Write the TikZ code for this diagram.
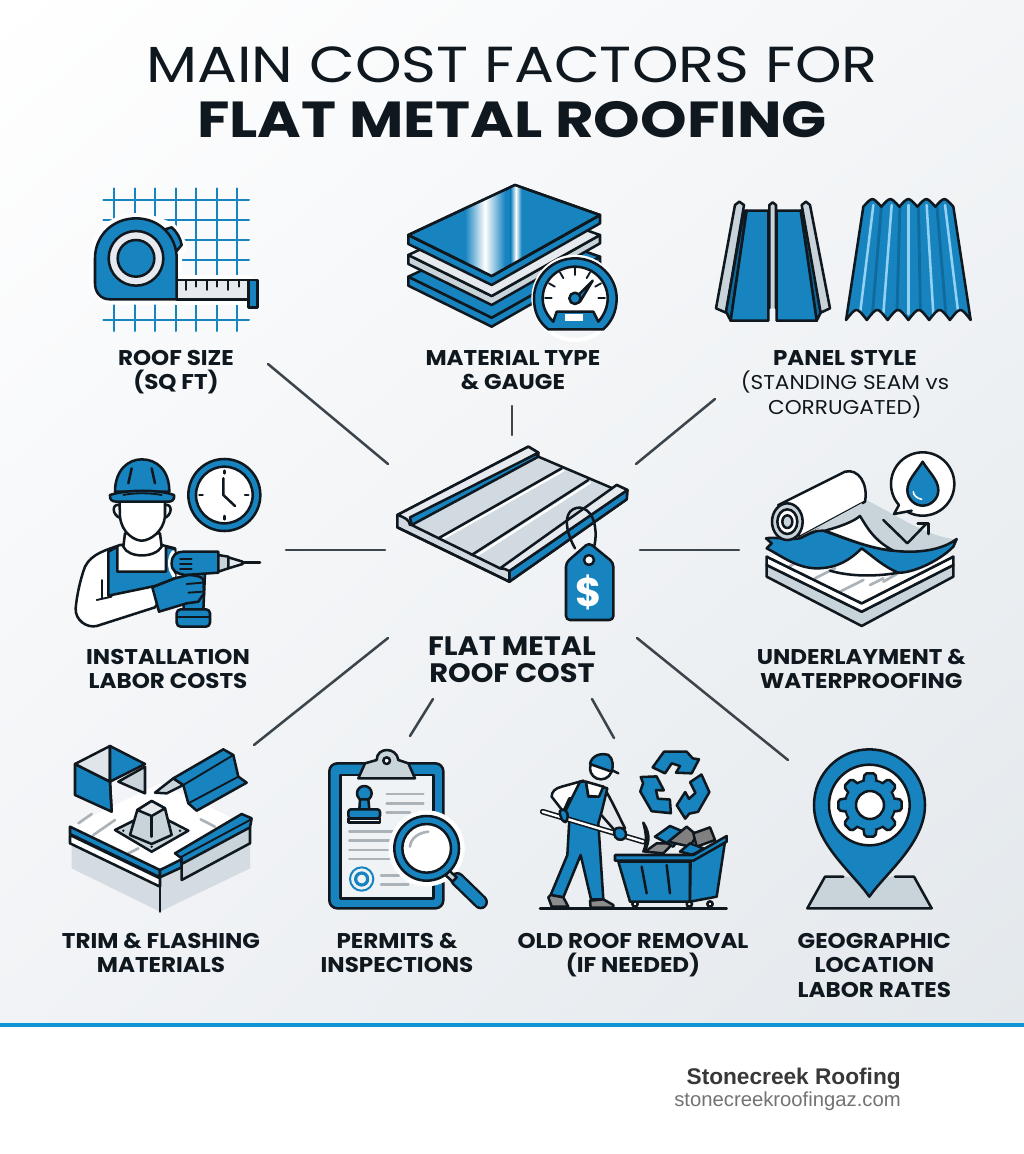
\documentclass[tikz,border=0pt]{standalone}
\usepackage{fontspec}
\usepackage{xcolor}
\setmainfont{Poppins}
\newfontfamily\titlefont[FakeStretch=1.17]{Poppins}
\newfontfamily\labelfont[FakeStretch=1.08]{Poppins}
\newfontfamily\footfont{Liberation Sans}
\definecolor{ink}{HTML}{10181F}
\definecolor{roofblue}{HTML}{1784C0}
\definecolor{deepblue}{HTML}{0F6A9E}
\definecolor{skyblue}{HTML}{93D2F2}
\definecolor{steel}{HTML}{C9D3DA}
\definecolor{paleface}{HTML}{E6EAEE}
\definecolor{spokegray}{HTML}{3C444C}
\definecolor{stripe}{HTML}{0F95D6}
\definecolor{backtr}{HTML}{F3F5F7}
\definecolor{backbl}{HTML}{F1F3F6}
\definecolor{backbr}{HTML}{E3E8EC}
\usetikzlibrary{positioning,shadings}
\tikzset{icon/.style={shift={#1},x=0.25pt,y=-0.25pt}}

\begin{document}
\begin{tikzpicture}[x=0.75pt, y=-0.75pt, line join=round, line cap=round]
    % Define styles
    \tikzstyle{outline} = [draw=ink, line width=1.9pt]
    \tikzstyle{blueface} = [outline, fill=roofblue]
    \tikzstyle{steelface} = [outline, fill=steel]
    \tikzstyle{whiteface} = [outline, fill=white]
    \tikzstyle{paneface} = [outline, fill=paleface]
    \tikzstyle{fineline} = [draw=ink, line width=1.4pt]
    \tikzstyle{gridline} = [draw=roofblue, line width=1.5pt]
    \tikzstyle{halo} = [draw=white, line width=8pt]
    \tikzstyle{textline} = [draw=steel!85!black, line width=2pt]
    \tikzstyle{spoke} = [draw=spokegray, line width=1.9pt]
    \tikzstyle{factor} = [font=\labelfont\bfseries\fontsize{16}{18.4}\selectfont, align=center, text=ink, inner sep=0pt, execute at end node=\strut]
    \tikzstyle{hubtext} = [font=\labelfont\bfseries\fontsize{20}{20.3}\selectfont, align=center, text=ink, inner sep=0pt]

    % Page and footer
    \useasboundingbox (0,0) rectangle (1024,1154);
    \fill [white] (0,0) rectangle (1024,1154);
    \shade [upper left=white, upper right=backtr, lower left=backbl, lower right=backbr] (0,0) rectangle (1024,1025);
    \fill [stripe] (0,1023) rectangle (1024,1027);

    % Title
    \node [font=\titlefont\fontsize{38}{42}\selectfont, text=ink, inner sep=0pt] (titleline) at (512,65) {MAIN COST FACTORS FOR};
    \node [font=\titlefont\bfseries\fontsize{38}{42}\selectfont, text=ink, inner sep=0pt, below of=titleline, node distance=41pt] (titlebold) {FLAT METAL ROOFING};

    % Factor labels
    \node [factor] (roofsize) at (176,373.7) {ROOF SIZE\\(SQ FT)};
    \node [factor, right of=roofsize, node distance=252.7pt] (gauge) {MATERIAL TYPE\\\& GAUGE};
    \node [factor, right of=gauge, node distance=249pt, yshift=-9pt] (panelstyle) {PANEL STYLE\\{\mdseries\fontsize{15}{18.4}\selectfont (STANDING SEAM vs}\\{\mdseries\fontsize{15}{18.4}\selectfont CORRUGATED)}};
    \node [factor] (labor) at (168,672.7) {INSTALLATION\\LABOR COSTS};
    \node [hubtext] (hub) at (512,660) {FLAT METAL\\ROOF COST};
    \node [factor, right of=labor, node distance=520pt] (underlay) {UNDERLAYMENT \&\\WATERPROOFING};
    \node [factor] (trim) at (161,956.7) {TRIM \& FLASHING\\MATERIALS};
    \node [factor, right of=trim, node distance=177pt] (permits) {PERMITS \&\\INSPECTIONS};
    \node [factor, right of=permits, node distance=177pt] (removal) {OLD ROOF REMOVAL\\(IF NEEDED)};
    \node [factor, right of=removal, node distance=181pt, yshift=-9pt] (location) {GEOGRAPHIC\\LOCATION\\LABOR RATES};

    % Footer text
    \node [font=\footfont\bfseries\fontsize{17}{20}\selectfont, text=black!78, anchor=east, inner sep=0pt] (brand) at (901,1079) {Stonecreek Roofing};
    \node [font=\footfont\fontsize{15.2}{18}\selectfont, text=black!55, anchor=east, inner sep=0pt] (website) at (901,1101) {stonecreekroofingaz.com};

    % Spoke ends
    \coordinate (s1a) at (268,364); \coordinate (s1b) at (388,464);
    \coordinate (s2a) at (512,406); \coordinate (s2b) at (512,435);
    \coordinate (s3a) at (715,399); \coordinate (s3b) at (636,464);
    \coordinate (s4a) at (286,550); \coordinate (s4b) at (385,550);
    \coordinate (s5a) at (739,550); \coordinate (s5b) at (640,550);
    \coordinate (s6a) at (254,745); \coordinate (s6b) at (388,638);
    \coordinate (s7a) at (410,736); \coordinate (s7b) at (433,699);
    \coordinate (s8a) at (614,738); \coordinate (s8b) at (592,699);
    \coordinate (s9a) at (788,760); \coordinate (s9b) at (637,638);
    \foreach \n in {1,...,9}
        \draw [spoke] (s\n a) -- (s\n b);

    % Roof size icon
    \begin{scope}[icon={(60,170)}]
        \foreach \x in {163,225,286,348,409,470,532} {
            \draw [gridline] (\x,55) -- (\x,315);
            \draw [gridline] (\x,403) -- (\x,483);
        }
        \foreach \y in {90,150,210,270,450}
            \draw [gridline] (130,\y) -- (567,\y);
        \draw [halo] (350,388) -- (150,388) .. controls (120,388) and (105,365) .. (105,340) -- (105,265) .. controls (105,195) and (160,145) .. (228,145) .. controls (270,145) and (310,165) .. (335,175) -- (365,225) -- (350,265) -- cycle;
        \draw [halo] (350,330) rectangle (565,388);
        \draw [blueface] (315,178) -- (335,172) .. controls (350,185) and (362,205) .. (365,225) -- (350,243) -- cycle;
        \draw [paneface] (350,330) rectangle (565,388);
        \foreach \x/\y in {378/360,407/350,440/360,472/350,505/360,537/350}
            \draw [fineline] (\x,330) -- (\x,\y);
        \draw [blueface] (350,388) -- (150,388) .. controls (120,388) and (105,365) .. (105,340) -- (105,265) .. controls (105,195) and (160,145) .. (228,145) .. controls (300,145) and (350,200) .. (350,265) -- cycle;
        \draw [paneface] (228,265) circle [radius=82];
        \draw [blueface] (228,265) circle [radius=55];
        \draw [blueface] (565,330) rectangle (592,412);
    \end{scope}

    % Material stack icon
    \begin{scope}[icon={(390,170)}]
        \foreach \dy/\topcol/\sidecol in {125/roofblue/roofblue,60/paleface/steel,0/roofblue/roofblue} {
            \begin{scope}[yshift=-\dy*0.25pt]
                \draw [outline, fill=\sidecol] (55,195) -- (305,318) -- (630,135) -- (630,160) -- (305,345) -- (55,222) -- cycle;
                \draw [outline, fill=\topcol] (375,45) -- (630,135) -- (305,318) -- (55,195) -- cycle;
            \end{scope}
        }
        \begin{scope}
            \clip (375,45) -- (630,135) -- (305,318) -- (55,195) -- cycle;
            \fill [left color=roofblue, right color=roofblue, middle color=white] (225,30) rectangle (345,330);
            \fill [left color=roofblue, right color=roofblue, middle color=white] (362,30) rectangle (394,330);
        \end{scope}
        \draw [outline] (375,45) -- (630,135) -- (305,318) -- (55,195) -- cycle;
        % Gauge
        \draw [draw=white, line width=3pt] (555,385) circle [radius=125];
        \draw [blueface] (475,478) .. controls (445,455) and (432,425) .. (432,385) .. controls (432,318) and (488,265) .. (555,265) .. controls (622,265) and (680,318) .. (680,385) .. controls (680,425) and (665,455) .. (640,478) -- cycle;
        \draw [whiteface] (490,455) .. controls (470,435) and (458,412) .. (458,385) .. controls (458,332) and (502,290) .. (555,290) .. controls (608,290) and (653,332) .. (653,385) .. controls (653,412) and (642,435) .. (625,455) -- (610,425) -- (500,425) -- cycle;
        \fill [white] (525,432) rectangle (580,452);
        \foreach \a in {0,30,60,90,120,150,180}
            \draw [fineline] ({555+70*cos(\a)},{385-70*sin(\a)}) -- ({555+90*cos(\a)},{385-90*sin(\a)});
        \draw [blueface] (608,332) -- (565,375) -- (570,395) -- cycle;
        \draw [blueface] (555,385) circle [radius=17];
    \end{scope}

    % Panel style icon
    \begin{scope}[icon={(700,190)}]
        \draw [steelface] (48,355) -- (105,45) -- (118,35) -- (132,45) -- (78,368) -- cycle;
        \draw [outline, fill=deepblue] (132,62) -- (78,365) -- (92,392) -- (140,62) -- cycle;
        \draw [blueface] (140,62) -- (205,62) -- (205,392) -- (92,392) -- cycle;
        \draw [steelface] (208,355) -- (208,45) -- (218,37) -- (228,45) -- (228,355);
        \draw [outline, fill=deepblue] (302,62) -- (312,62) -- (362,368) -- (350,392) -- cycle;
        \draw [blueface] (230,62) -- (302,62) -- (350,392) -- (230,392) -- cycle;
        \draw [steelface] (305,45) -- (318,35) -- (330,45) -- (390,355) -- (362,368) -- cycle;
        % Corrugated sheet
        \begin{scope}
            \clip (490,50) \foreach \i in {0,...,4} { .. controls ({490+54*\i+27},20) .. ({490+54*\i+54},50) } -- (812,390) \foreach \i in {0,...,5} { .. controls ({812-62.3*\i-31},350) .. ({812-62.3*\i-62.3},390) } -- cycle;
            \fill [roofblue] (430,20) rectangle (820,400);
            \foreach \xa/\xb in {545/515,600/590,655/662,710/740}
                \draw [draw=deepblue, line width=2.2pt] (\xa,40) -- (\xb,400);
            \foreach \xa/\xb in {520/480,575/550,625/625,680/700,735/775}
                \draw [draw=skyblue, line width=1.9pt] (\xa,45) -- (\xb,372);
        \end{scope}
        \draw [outline] (490,50) \foreach \i in {0,...,4} { .. controls ({490+54*\i+27},20) .. ({490+54*\i+54},50) } -- (812,390) \foreach \i in {0,...,5} { .. controls ({812-62.3*\i-31},350) .. ({812-62.3*\i-62.3},390) } -- cycle;
    \end{scope}

    % Installation labor icon
    \begin{scope}[icon={(60,450)}]
        \draw [whiteface] (180,285) .. controls (140,300) and (95,310) .. (75,350) .. controls (60,390) and (50,440) .. (47,475) .. controls (45,510) and (80,535) .. (110,528) -- (285,472) -- (345,380) -- (345,295) -- (305,285) -- cycle;
        \draw [blueface] (145,305) -- (172,290) -- (172,365) -- (318,365) -- (318,290) -- (345,297) -- (345,385) -- (285,408) -- (145,437) -- cycle;
        \draw [whiteface] (195,250) -- (190,290) .. controls (205,325) and (285,325) .. (305,290) -- (300,250) -- cycle;
        \draw [outline] (178,165) .. controls (155,160) and (155,195) .. (182,205);
        \draw [outline] (315,165) .. controls (338,160) and (338,195) .. (312,205);
        \draw [whiteface] (178,140) -- (180,200) .. controls (185,250) and (225,272) .. (245,272) .. controls (270,272) and (310,245) .. (315,200) -- (315,140) -- cycle;
        \draw [blueface] (165,125) .. controls (165,60) and (205,28) .. (245,28) .. controls (290,28) and (328,60) .. (328,125) -- cycle;
        \draw [blueface] (150,135) .. controls (200,118) and (295,118) .. (342,135) .. controls (345,150) and (335,155) .. (325,155) -- (170,155) .. controls (155,155) and (148,148) .. (150,135) -- cycle;
        \draw [outline] (205,100) -- (215,55);
        \draw [outline] (285,100) -- (275,55);
        \draw [fineline] (190,135) .. controls (220,128) and (270,128) .. (305,135);
        \draw [fineline] (125,390) -- (125,445);
        \draw [fineline] (110,450) -- (155,440);
        % Drill
        \draw [draw=white, line width=2.5pt] (340,305) .. controls (325,325) and (325,355) .. (342,378);
        \draw [blueface] (378,370) -- (435,370) -- (430,482) -- (370,482) -- cycle;
        \draw [blueface, rounded corners=3pt] (350,478) rectangle (450,530);
        \draw [fineline] (350,500) -- (450,500);
        \draw [blueface] (335,340) .. controls (335,315) and (350,305) .. (370,305) -- (475,305) -- (475,368) -- (375,375) .. controls (350,370) and (335,365) .. (335,340) -- cycle;
        \foreach \y in {328,342,356}
            \draw [fineline] (360,\y) -- (395,\y);
        \draw [steelface] (475,315) -- (505,320) -- (505,355) -- (475,365) -- cycle;
        \draw [paneface] (505,322) -- (548,335) -- (548,342) -- (505,355) -- cycle;
        \draw [outline] (548,338) -- (600,338);
        \draw [blueface] (277,412) -- (345,385) -- (385,375) .. controls (405,375) and (425,380) .. (430,388) -- (432,430) -- (415,455) -- (380,460) -- (297,485) -- cycle;
        \draw [fineline] (380,402) -- (428,398);
        \draw [fineline] (385,428) -- (428,425);
        % Clock
        \draw [blueface] (493,135) circle [radius=108];
        \draw [whiteface] (493,135) circle [radius=85];
        \draw [outline] (490,85) -- (490,135) -- (525,168);
        \draw [outline] (493,62) -- (493,70);
        \draw [outline] (493,198) -- (493,208);
        \draw [outline] (418,135) -- (428,135);
        \draw [outline] (555,135) -- (565,135);
    \end{scope}

    % Roof panel icon
    \begin{scope}[icon={(390,440)}]
        \draw [outline, fill=steel!85] (22,225) -- (415,20) -- (445,38) -- (445,50) -- (668,145) -- (680,135) -- (712,150) -- (710,178) -- (358,425) -- (22,262) -- cycle;
        \draw [outline, fill=paleface] (22,225) -- (415,20) -- (445,38) -- (60,255) .. controls (58,240) and (45,232) .. (22,225) -- cycle;
        \draw [blueface] (60,232) -- (438,42) -- (445,50) -- (65,255) -- cycle;
        \draw [draw=white, line width=1.6pt] (155,298) -- (520,92);
        \draw [draw=white, line width=1.6pt] (255,350) -- (600,128);
        \draw [outline] (145,295) -- (515,85);
        \draw [outline] (245,345) -- (595,120);
        \draw [outline] (65,255) -- (330,385);
        \draw [blueface] (358,393) -- (712,150) -- (710,178) -- (358,425) -- cycle;
        \draw [paneface] (330,385) -- (680,135) -- (712,150) -- (358,393) .. controls (350,388) and (340,385) .. (330,385) -- cycle;
        \draw [outline] (22,262) -- (358,425) -- (358,393);
        % Price tag
        \draw [outline] (555,325) .. controls (535,290) and (520,240) .. (540,215) .. controls (565,190) and (600,205) .. (612,245) .. controls (622,285) and (615,320) .. (605,340);
        \draw [blueface, rounded corners=3pt] (597,308) -- (670,368) -- (670,540) -- (528,540) -- (528,368) -- cycle;
        \draw [whiteface] (597,360) circle [radius=15];
        \node [font=\bfseries\fontsize{30}{30}\selectfont, text=white, inner sep=0pt] (pricesign) at (597,457) {\$};
    \end{scope}

    % Underlayment icon
    \begin{scope}[icon={(750,440)}]
        \draw [steelface] (50,375) -- (50,410) -- (335,558) -- (610,410) -- (610,375) -- (335,515) -- cycle;
        \draw [whiteface] (50,350) -- (50,375) -- (335,515) -- (610,375) -- (610,350) -- (335,490) -- cycle;
        \fill [white] (50,350) -- (335,490) -- (610,350) -- (330,310) -- cycle;
        \foreach \xa/\ya/\xb/\yb in {120/378/150/362,195/415/255/385,270/455/340/420,360/435/400/415,400/425/470/385}
            \draw [textline] (\xa,\ya) -- (\xb,\yb);
        \draw [outline] (50,350) -- (335,490) -- (610,350);
        \fill [steel] (165,250) -- (330,172) .. controls (420,210) and (520,290) .. (620,298) .. controls (570,330) and (500,340) .. (430,335) -- (220,275) -- cycle;
        \draw [blueface] (48,295) .. controls (70,290) and (120,300) .. (150,295) .. controls (180,280) and (200,270) .. (220,272) .. controls (300,300) and (380,335) .. (480,335) .. controls (540,335) and (590,320) .. (620,297) -- (610,320) .. controls (560,370) and (480,400) .. (445,398) .. controls (400,380) and (370,350) .. (335,325) .. controls (300,360) and (260,385) .. (200,385) .. controls (140,385) and (90,345) .. (50,325) -- (65,310) -- cycle;
        \draw [whiteface] (225,272) .. controls (270,260) and (310,245) .. (330,228) .. controls (350,260) and (370,300) .. (430,332) .. controls (360,325) and (300,300) .. (225,272) -- cycle;
        \draw [outline] (240,392) .. controls (300,410) and (380,410) .. (445,398);
        \draw [whiteface] (85,195) -- (285,95) .. controls (325,85) and (355,130) .. (345,185) -- (150,290) -- cycle;
        \fill [steel] (150,290) -- (335,190) -- (345,205) -- (180,275) -- cycle;
        \draw [steelface] (112,245) ellipse [x radius=46, y radius=55];
        \draw [whiteface] (112,245) ellipse [x radius=30, y radius=37];
        \draw [steelface] (112,245) ellipse [x radius=15, y radius=19];
        \draw [outline] (400,240) -- (472,310) -- (530,250);
        \draw [outline] (503,250) -- (535,250) -- (535,282);
        % Speech bubble
        \draw [whiteface] (518,132) circle [radius=95];
        \fill [white] (450,190) -- (432,222) -- (485,212) -- cycle;
        \draw [outline] (447,195) -- (432,222) -- (485,212);
        \draw [blueface] (518,65) .. controls (500,95) and (472,120) .. (472,150) .. controls (472,178) and (495,197) .. (518,197) .. controls (541,197) and (565,178) .. (565,150) .. controls (565,120) and (536,95) .. (518,65) -- cycle;
        \draw [draw=white, line width=1.2pt] (490,155) .. controls (490,165) and (500,175) .. (515,178);
    \end{scope}

    % Trim and flashing icon
    \begin{scope}[icon={(60,740)}]
        \fill [steel!80] (35,315) -- (35,385) -- (300,515) -- (570,385) -- (570,265) -- (300,395) -- cycle;
        \fill [white] (30,260) -- (300,130) -- (570,260) -- (300,395) -- cycle;
        \foreach \xa/\ya/\xb/\yb in {55/250/95/222,100/285/165/240,205/340/235/325,422/238/465/260}
            \draw [textline] (\xa,\ya) -- (\xb,\yb);
        \draw [whiteface] (30,285) -- (300,415) -- (300,440) -- (30,310) -- cycle;
        \draw [blueface] (30,260) -- (300,390) -- (300,412) -- (30,282) -- cycle;
        \draw [blueface] (300,390) -- (365,358) -- (365,382) -- (300,412) -- cycle;
        \draw [outline] (300,412) -- (300,515);
        \draw [steelface] (365,355) -- (365,420) -- (570,310) -- (570,262) -- cycle;
        \draw [blueface] (345,340) -- (545,222) -- (575,235) -- (570,262) -- (365,372) -- (365,355) -- cycle;
        \draw [fineline] (365,350) -- (570,240);
        % Pipe boot
        \draw [steelface] (165,270) -- (275,215) -- (385,272) -- (275,335) -- cycle;
        \draw [steelface] (210,285) -- (232,210) -- (275,183) -- (315,205) -- (335,285) -- (275,312) -- cycle;
        \draw [paneface] (232,210) -- (275,183) -- (315,205) -- (275,228) -- cycle;
        \draw [outline] (275,230) -- (275,290);
        \foreach \x/\y in {190/272,360/272,275/320}
            \fill [ink] (\x,\y) circle [radius=4];
        % Corner piece
        \draw [blueface] (45,72) -- (150,125) -- (155,215) -- (45,165) -- cycle;
        \draw [steelface] (175,125) -- (255,80) -- (255,160) -- cycle;
        \draw [outline, fill=steel!60] (45,72) -- (150,18) -- (150,125) -- cycle;
        \draw [blueface] (150,18) -- (255,72) -- (150,125) -- cycle;
        \draw [outline] (150,125) -- (155,215);
        % Ridge piece
        \draw [steelface] (285,158) -- (340,115) -- (370,135) -- (320,160) -- cycle;
        \draw [blueface] (340,115) -- (490,28) -- (520,45) -- (535,110) -- (560,128) -- (410,212) -- (385,190) -- (370,135) -- cycle;
        \draw [fineline] (370,135) -- (520,45);
        \draw [fineline] (385,190) -- (535,110);
    \end{scope}

    % Permits icon
    \begin{scope}[icon={(320,740)}]
        \draw [blueface, rounded corners=6pt] (28,70) rectangle (370,505);
        \fill [paleface!60] (62,105) rectangle (340,475);
        \draw [outline] (62,105) rectangle (340,475);
        \draw [steelface] (115,115) -- (135,70) -- (170,60) .. controls (170,20) and (230,20) .. (235,60) -- (265,70) -- (285,115) -- cycle;
        \draw [whiteface] (200,62) circle [radius=10];
        \draw [blueface] (133,160) circle [radius=22];
        \draw [blueface] (120,178) -- (145,178) -- (148,208) -- (118,208) -- cycle;
        \draw [blueface, rounded corners=2pt] (85,208) rectangle (180,235);
        \draw [outline, fill=white] (85,235) rectangle (180,248);
        \foreach \xa/\xb/\y in {200/310/162,200/310/190,200/270/217,88/218/274,88/210/302,88/205/330,88/210/357,183/237/406,183/265/434}
            \draw [textline] (\xa,\y) -- (\xb,\y);
        \draw [draw=roofblue, line width=1.5pt] (125,417) circle [radius=35];
        \draw [draw=roofblue, line width=2.4pt] (125,417) circle [radius=18];
        % Magnifier
        \draw [draw=white, line width=6pt] (320,325) circle [radius=102];
        \draw [draw=ink, line width=11pt] (412,418) -- (482,486);
        \draw [draw=roofblue, line width=7.4pt] (412,418) -- (482,486);
        \draw [steelface] (388,392) -- (410,412) -- (398,425) -- (376,405) -- cycle;
        \draw [blueface] (320,325) circle [radius=97];
        \draw [whiteface] (320,325) circle [radius=73];
        \draw [textline] (270,320) .. controls (272,295) and (295,278) .. (325,275);
    \end{scope}

    % Old roof removal icon
    \begin{scope}[icon={(530,740)}]
        \draw [outline] (30,505) -- (590,505);
        \foreach \r in {0,120,240}
            \draw [blueface, rotate around={\r:(435,135)}] (368,82) -- (402,35) -- (470,35) -- (488,55) -- (507,58) -- (485,100) -- (438,98) -- (450,78) -- (425,70) -- (405,100) -- cycle;
        % Worker
        \draw [steelface, fill=paleface] (220,140) .. controls (245,180) and (265,225) .. (285,265) -- (255,272) -- (205,215) -- cycle;
        \draw [whiteface] (160,122) -- (95,140) .. controls (75,145) and (65,155) .. (65,170) -- (100,215) -- (118,175) -- (165,180) -- cycle;
        \draw [blueface] (150,125) -- (168,125) -- (175,170) -- (205,170) -- (215,140) -- (232,145) -- (215,215) -- (205,250) -- (220,478) -- (183,478) -- (152,345) -- (100,472) -- (62,465) -- (112,345) -- (118,240) -- (105,215) -- cycle;
        \draw [whiteface] (168,125) -- (220,140) -- (207,170) -- (175,168) -- cycle;
        \draw [outline, fill=black!45] (55,472) -- (62,465) -- (100,472) -- (115,500) -- (65,500) -- cycle;
        \draw [outline, fill=black!45] (180,482) -- (220,478) -- (250,495) -- (250,503) -- (182,503) -- cycle;
        \draw [whiteface] (213,85) circle [radius=33];
        \draw [blueface] (180,72) .. controls (185,45) and (215,38) .. (235,45) .. controls (250,55) and (250,80) .. (245,95) -- cycle;
        \draw [outline] (245,90) -- (265,100);
        % Dumpster
        \draw [outline, fill=black!45] (345,335) -- (380,310) -- (430,310) -- (400,340) -- cycle;
        \draw [blueface] (375,290) -- (420,258) -- (460,275) -- (430,320) -- cycle;
        \draw [outline, fill=black!50] (415,305) -- (470,260) -- (500,285) -- (480,320) -- cycle;
        \draw [outline, fill=black!50] (490,280) -- (540,262) -- (555,300) -- (500,320) -- cycle;
        \draw [blueface] (450,335) -- (480,310) -- (520,325) -- (490,345) -- cycle;
        \draw [outline, fill=white] (315,492) circle [radius=8];
        \draw [outline, fill=white] (478,492) circle [radius=8];
        \draw [outline, fill=white] (540,492) circle [radius=8];
        \draw [blueface] (265,365) -- (480,365) -- (480,485) -- (300,485) -- cycle;
        \draw [blueface] (482,345) -- (585,305) -- (560,470) -- (480,485) -- cycle;
        \draw [blueface] (255,345) -- (490,345) -- (590,288) -- (590,305) -- (490,362) -- (255,362) -- cycle;
        \draw [outline] (335,380) -- (350,460);
        \draw [outline] (410,375) -- (420,460);
        % Shovel
        \draw [draw=ink, line width=1.2pt, double=white, double distance=1.8pt] (38,215) -- (340,305);
        \draw [whiteface] (340,248) .. controls (365,285) and (355,320) .. (340,335) .. controls (355,300) and (345,270) .. (340,248) -- cycle;
        \draw [blueface, rounded corners=3pt] (85,210) -- (110,208) -- (115,240) -- (100,250) -- cycle;
        \draw [blueface, rounded corners=3pt] (255,262) -- (285,265) -- (290,295) -- (262,302) -- (250,280) -- cycle;
    \end{scope}

    % Location icon
    \begin{scope}[icon={(790,740)}]
        \fill [steel] (52,505) -- (105,410) -- (372,410) -- (425,505) -- cycle;
        \draw [outline] (160,410) -- (105,410) -- (52,505) -- (425,505) -- (372,410) -- (315,410);
        \draw [blueface] (238,470) .. controls (190,400) and (72,310) .. (72,195) .. controls (72,103) and (146,28) .. (238,28) .. controls (330,28) and (405,103) .. (405,195) .. controls (405,310) and (286,400) .. (238,470) -- cycle;
        \draw [whiteface] (238,195) circle [radius=121];
        \begin{scope}[shift={(240,195)}]
            \draw [blueface] (0,0) circle [radius=75];
            \foreach \a in {0,45,...,315}
                \draw [blueface, rotate=\a, rounded corners=1.5pt] (-20,-70) -- (-16,-95) -- (16,-95) -- (20,-70);
            \fill [roofblue] (0,0) circle [radius=72];
            \draw [whiteface] (0,0) circle [radius=42];
        \end{scope}
    \end{scope}
\end{tikzpicture}
\end{document}
